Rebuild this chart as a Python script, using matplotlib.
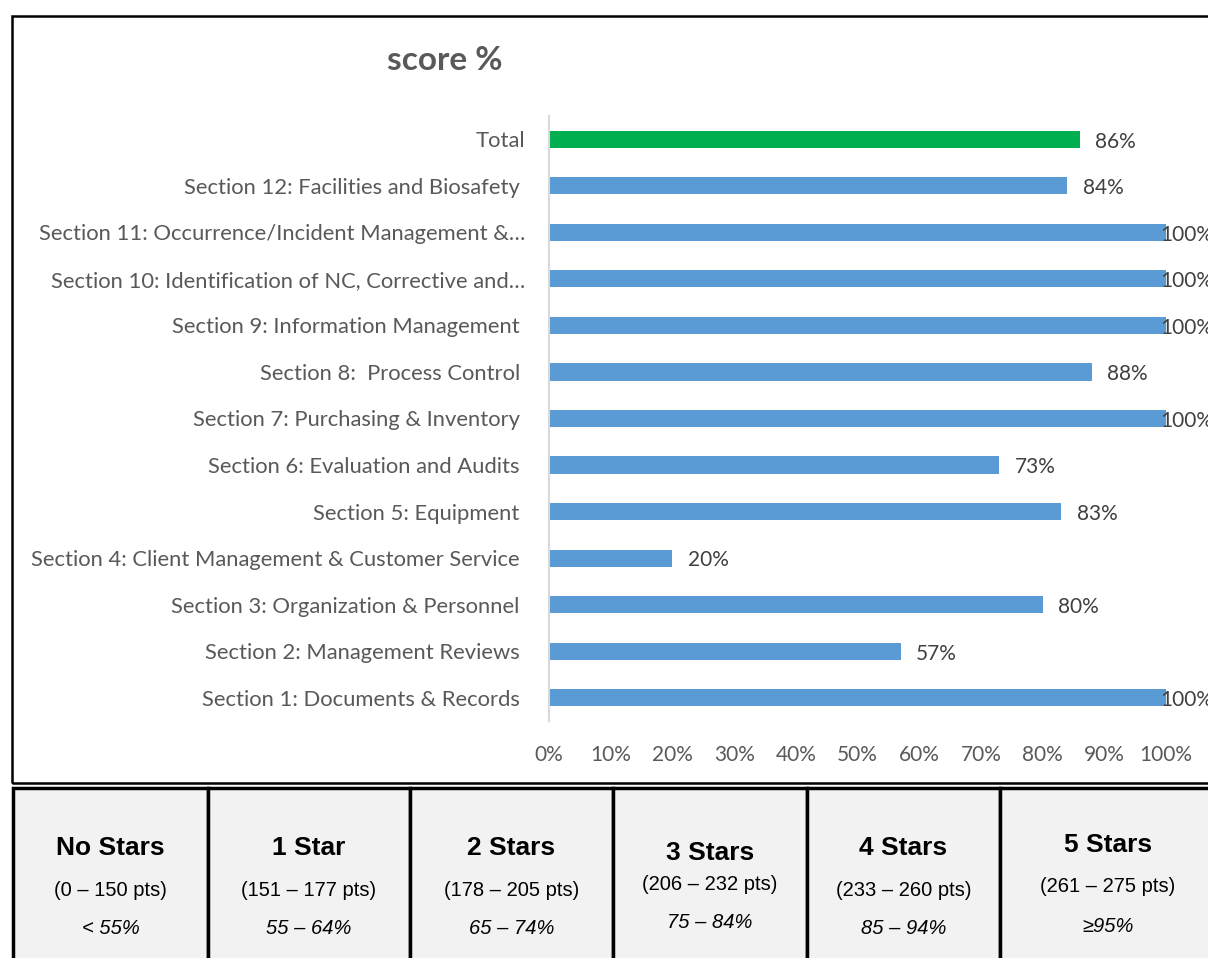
import matplotlib.pyplot as plt
from matplotlib.patches import Rectangle
from matplotlib.ticker import PercentFormatter

categories = [
    "Total",
    "Section 12: Facilities and Biosafety ",
    "Section 11: Occurrence/Incident Management &\u2026",
    "Section 10: Identification of NC, Corrective and\u2026",
    "Section 9: Information Management ",
    "Section 8:  Process Control ",
    "Section 7: Purchasing & Inventory ",
    "Section 6: Evaluation and Audits ",
    "Section 5: Equipment ",
    "Section 4: Client Management & Customer Service ",
    "Section 3: Organization & Personnel ",
    "Section 2: Management Reviews ",
    "Section 1: Documents & Records ",
]
scores = [0.86, 0.84, 1.00, 1.00, 1.00, 0.88, 1.00, 0.73, 0.83, 0.20, 0.80, 0.57, 1.00]

star_titles = ["No Stars", "1 Star", "2 Stars", "3 Stars", "4 Stars", "5 Stars"]
star_points = ["(0 \u2013 150 pts)", "(151 \u2013 177 pts)", "(178 \u2013 205 pts)",
               "(206 \u2013 232 pts)", "(233 \u2013 260 pts)", "(261 \u2013 275 pts)"]
star_percent = ["< 55%", "55 \u2013 64%", "65 \u2013 74%", "75 \u2013 84%", "85 \u2013 94%", "\u226595%"]

W, H = 1208, 958
fig = plt.figure(figsize=(W / 100, H / 100), dpi=100)
fig.patch.set_facecolor("white")

def fx(px):
    return px / W

def fy(py):
    return 1 - py / H

label_font = ["Lato", "DejaVu Sans"]
table_font = ["Liberation Sans Narrow", "Liberation Sans", "DejaVu Sans"]

# chart frame
fig.add_artist(Rectangle((fx(12), fy(783)), fx(1230) - fx(12), fy(16) - fy(783),
                         transform=fig.transFigure, facecolor="none",
                         edgecolor="black", lw=1.8, clip_on=False, zorder=-1))

ax = fig.add_axes([fx(549), fy(721), fx(1166) - fx(549), fy(116) - fy(721)])
ax.set_facecolor("none")
y = list(range(len(categories)))
colors = ["#00B050"] + ["#5B9BD5"] * (len(categories) - 1)
ax.barh(y, scores, height=0.37, color=colors)
ax.set_ylim(len(categories) - 0.5, -0.5)
ax.set_xlim(0, 1)
ax.set_yticks(y)
ax.set_yticklabels(categories, family=label_font, fontsize=15.8, color="#595959")
ax.xaxis.set_major_formatter(PercentFormatter(1.0, decimals=0))
ax.set_xticks([i / 10 for i in range(11)])
ax.tick_params(axis="x", length=0, pad=17, labelsize=15, labelcolor="#595959")
ax.tick_params(axis="y", length=0, pad=17)
for lbl in ax.get_xticklabels():
    lbl.set_family(label_font)
for side in ["top", "right", "bottom"]:
    ax.spines[side].set_visible(False)
ax.spines["left"].set_color("#D9D9D9")
ax.spines["left"].set_linewidth(1.5)

# value labels, kept inside the plot edge like the Excel original
for yi, v in zip(y, scores):
    ax.text(min(v + 0.025, 0.99), yi + 0.05, f"{v:.0%}", va="center", ha="left",
            family=label_font, fontsize=15, color="#404040", clip_on=False)

fig.text(fx(445), fy(60), "score %", ha="center", va="center", family=label_font,
         fontsize=24, fontweight="bold", color="#595959")

# star rating table
col_edges = [13, 208, 410, 613, 807, 1000, 1230]
title_y = [848, 848, 848, 853, 848, 845]
points_y = [891, 891, 891, 884, 891, 887]
pct_y = [928, 928, 928, 922, 928, 927]
for i in range(len(star_titles)):
    x0, x1 = col_edges[i], col_edges[i + 1]
    fig.add_artist(Rectangle((fx(x0), fy(990)), fx(x1) - fx(x0), fy(788) - fy(990),
                             transform=fig.transFigure, facecolor="#F2F2F2",
                             edgecolor="black", lw=2.5, clip_on=False))
    cx = fx((x0 + x1) / 2) if i < 5 else fx(1108)
    fig.text(cx, fy(title_y[i]), star_titles[i], ha="center", va="center",
             family=table_font, fontsize=19, fontweight="bold", color="black")
    fig.text(cx, fy(points_y[i]), star_points[i], ha="center", va="center",
             family=table_font, fontsize=14.5, color="black")
    fig.text(cx, fy(pct_y[i]), star_percent[i], ha="center", va="center",
             family=table_font, fontsize=14.5, style="italic", color="black")

fig.savefig("out.png", dpi=100)
